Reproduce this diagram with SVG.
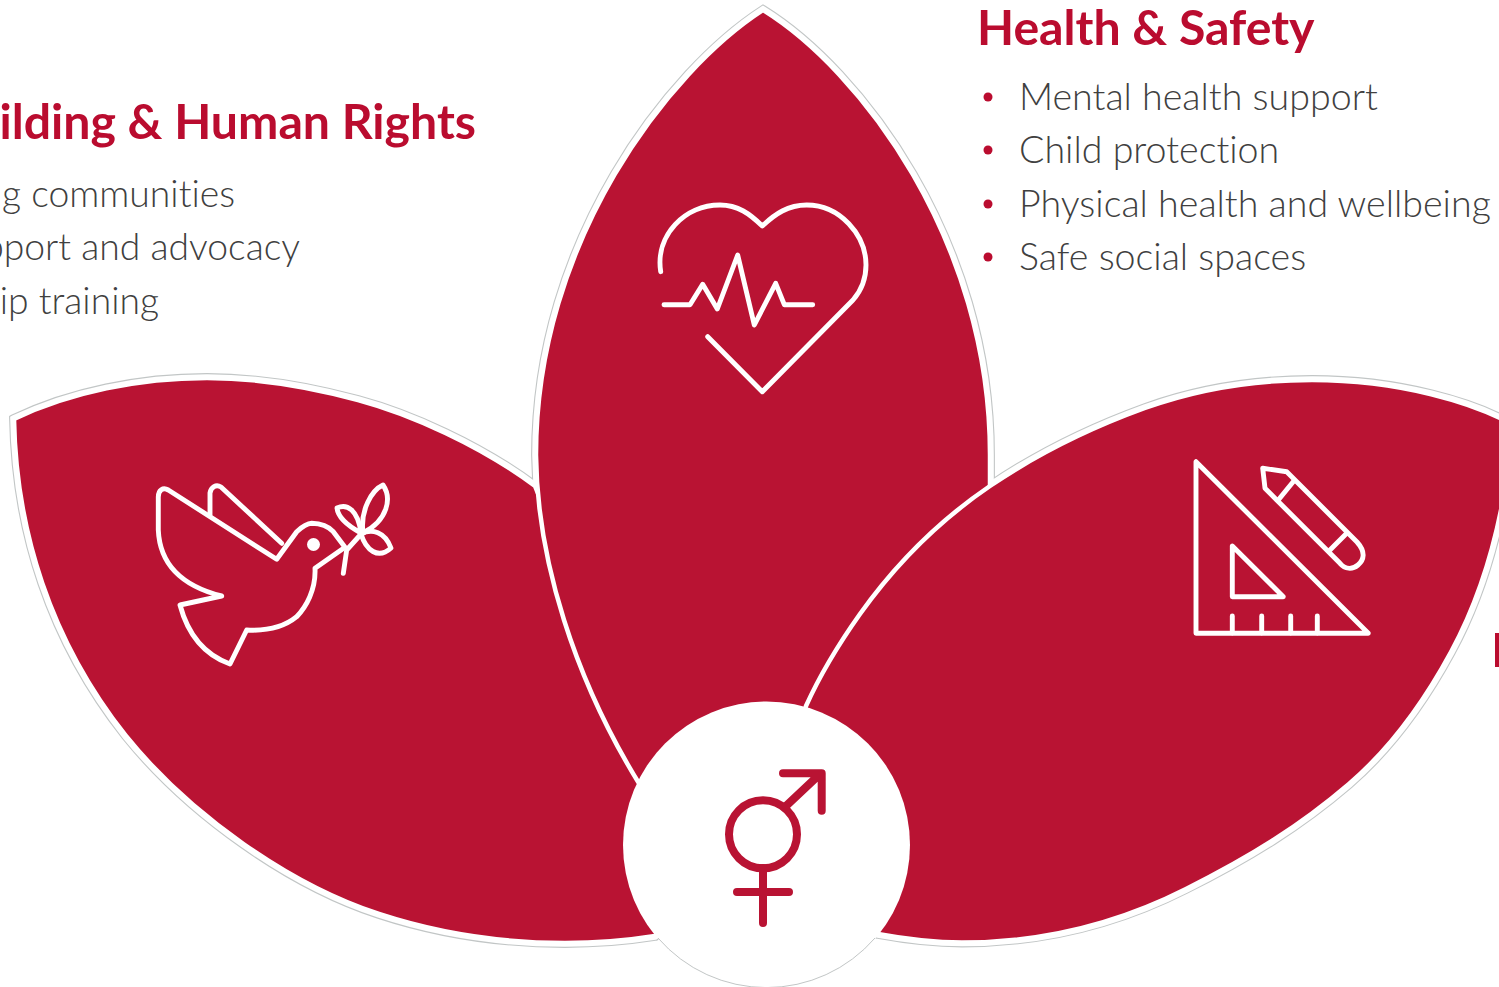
<svg xmlns="http://www.w3.org/2000/svg" xmlns:xlink="http://www.w3.org/1999/xlink" width="1499" height="987" viewBox="0 0 1499 987">
<style>
text{font-variant-ligatures:none}
.h{font-family:Lato,"Liberation Sans",sans-serif;font-weight:700;font-size:48.2px;fill:#ba0c2f}
.b{font-family:Lato,"Liberation Sans",sans-serif;font-weight:300;font-size:37.6px;fill:#404040}
.e{text-anchor:end;font-size:37.3px}
.h.e{font-size:48.2px}
.dot{fill:#ba0c2f}
.petal{fill:#b91333;stroke:#fff;stroke-width:4.5}
.halo{fill:none;stroke:#c2c6c6;stroke-width:9.8}
.gap{fill:none;stroke:#fff;stroke-width:7.6}
.ic{fill:none;stroke:#fff;stroke-width:4.9;stroke-linecap:round;stroke-linejoin:round}
.sym{fill:none;stroke:#b91333;stroke-width:8;stroke-linecap:round;stroke-linejoin:round}
</style>
<defs>
<path id="pl" d="M14,419 C70,392 140,378 207,378 C260,378 310,387 358,400 C410,414 480,445 535,486 L700,900 L655,936 C630,940 600,943 565,943 C500,943 440,934 379,914 C290,885 190,815 126,736 C50,640 16,530 14,419Z"/>
<path id="pc" d="M763,10 C860,70 990,240 990,455 L990,520 L800,760 L640,785 C575,680 537,560 536,455 C536,240 670,70 763,10Z"/>
<path id="pr" d="M1513,425 C1475,403 1400,380 1312,380 C1250,380 1195,390 1145,408 C1090,428 1040,452 990,486 C940,520 895,565 860,614 C838,645 820,675 806,706 L770,860 L878,934 C905,939 935,942.500 962,942.500 C1040,942.500 1115,925 1186,889 C1250,857 1300,826 1349,784 C1392,747 1425,700 1451,652 C1482,595 1505,520 1513,425Z"/>
</defs>
<g id="outlines">
<use xlink:href="#pl" class="halo"/>
<use xlink:href="#pc" class="halo"/>
<use xlink:href="#pr" class="halo"/>
<use xlink:href="#pl" class="gap"/>
<use xlink:href="#pc" class="gap"/>
<use xlink:href="#pr" class="gap"/>
</g>
<g id="petal-left"><use xlink:href="#pl" class="petal"/>
<g class="ic">
<path d="M168.300,490 L276.700,559.300 L296.700,531.700 C303,526 307,523.500 311.700,523.300 C320,523.500 328,526 333.300,531.700 L345,547.300 L315,568.300 C316,590 306,607 296.700,616.700 C283,628 265,631 246.700,630 L230,664 C205,655 188,635 180,605 L221.700,596 C190,588 160,570 158.300,530 L158.300,497 C158.300,490 163,487 168.300,490Z"/>
<path d="M210,515 L210,493 C211,487 216,484 221,487 L281.700,543.300"/>
<circle cx="313.500" cy="544.500" r="6.500" fill="#fff" stroke="none"/>
<path d="M343.300,573.300 L346.700,550 L362,533"/>
<path d="M363,533 C360,510 372,490 383,485 C392,498 388,520 363,533Z"/>
<path d="M361,533 C350,527 338,518 337,508 C347,503 358,510 361,533Z"/>
<path d="M361,534 C372,528 385,532 391,548 C378,560 366,550 361,534Z"/>
</g></g>
<g id="petal-center"><use xlink:href="#pc" class="petal"/>
<g class="ic">
<path d="M660.700,271.700 C655,235 685,205 720,205 C738,205 750,214 762.300,226 C775,214 788,205 806.700,205 C840,205 866,235 866,265 C866,280 860,292 853,300 L762.300,391.700 L707.700,336.700"/>
<path d="M664,304.700 H690 L702.700,284.300 L717.300,309 L737.700,255 L754.300,325 L775.700,283.300 L784.300,304.700 H812.700"/>
</g></g>
<g id="petal-right"><use xlink:href="#pr" class="petal"/>
<g class="ic">
<path d="M1196,461.700 V633.300 H1368.300Z"/>
<path d="M1232.300,546 V596.700 H1283.300Z"/>
<path d="M1232.300,616 V633 M1261.700,616 V633 M1290.700,616 V633 M1317.300,616 V633"/>
<path d="M1262.700,468.300 L1286.700,471.700 L1357,542 C1366,552 1364,560 1358,565 C1352,570 1345,569 1340,563.300 L1276.700,500 L1265,488.300Z"/>
<path d="M1294,480.700 L1278.300,500 M1346.700,533.300 L1330,550"/>
</g></g>
<g id="center-node">
<circle cx="766.500" cy="845" r="143.500" fill="#fff"/>
<path d="M658,938 A143.500,143.500 0 0 0 875,938" fill="none" stroke="#c2c6c6" stroke-width="1"/>
<g class="sym">
<circle cx="763" cy="834.300" r="34"/>
<path d="M786,806 L820,774 M783,773.300 H821.700 V810.700"/>
<path d="M763,868 V923 M737,892 H789"/>
</g></g>
<g id="text-left">
<text class="h e" x="476" y="139">ilding &amp; Human Rights</text>
<text class="b e" x="235" y="207">g communities</text>
<text class="b e" x="300" y="260">pport and advocacy</text>
<text class="b e" x="159" y="314">ip training</text>
</g>
<g id="text-right">
<text class="h" x="977" y="45">Health &amp; Safety</text>
<circle class="dot" cx="988" cy="97" r="4.500"/><text class="b" x="1019" y="110">Mental health support</text>
<circle class="dot" cx="988" cy="150" r="4.500"/><text class="b" x="1019" y="163">Child protection</text>
<circle class="dot" cx="988" cy="204" r="4.500"/><text class="b" x="1019" y="217">Physical health and wellbeing</text>
<circle class="dot" cx="988" cy="257" r="4.500"/><text class="b" x="1019" y="270">Safe social spaces</text>
</g>
<rect id="text-edge" x="1495" y="633" width="4" height="34" fill="#ba0c2f"/>
</svg>
